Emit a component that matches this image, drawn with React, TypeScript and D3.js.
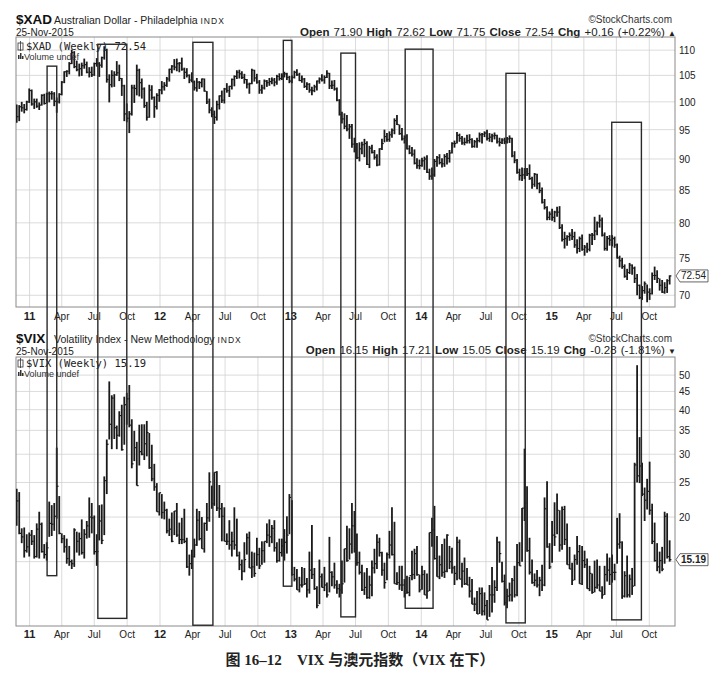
import * as d3 from 'd3';

// weekly bars, weeks ending on Fridays starting 26-Nov-2010: [high, low, close]
const firstWeek = new Date(2010, 10, 26);

const xadWeekly: [number, number, number][] = [
  // 2010
  [99.5, 96.2, 97.3], [99.4, 96.5, 99.1], [100.0, 98.2, 98.9], [99.6, 97.9, 98.6], [100.2, 98.4, 100.0], [102.5, 99.8, 102.1],
  // 2011
  [102.3, 99.3, 99.6], [100.6, 98.7, 100.0], [100.6, 98.9, 99.2], [99.9, 98.5, 99.4],
  [101.4, 99.3, 101.2], [101.5, 99.5, 99.7], [101.7, 99.7, 101.5], [101.9, 99.9, 101.5],
  [102.0, 100.4, 101.5], [101.8, 99.2, 100.1], [100.8, 98.0, 100.0], [101.6, 99.7, 101.4],
  [103.9, 101.2, 103.7], [105.8, 103.5, 105.7], [106.0, 104.7, 105.8], [107.6, 105.2, 107.3], [110.1, 107.2, 109.5],
  [109.8, 106.4, 106.7], [107.9, 105.8, 106.1], [107.3, 104.8, 106.3], [107.5, 104.9, 106.9],
  [108.3, 106.3, 107.1], [107.7, 105.4, 105.6], [106.6, 104.6, 105.6], [106.7, 104.7, 105.1],
  [107.5, 104.9, 107.3], [108.4, 106.7, 107.3], [107.6, 104.7, 107.0], [108.7, 106.5, 108.5], [110.8, 108.1, 110.0],
  [110.3, 103.6, 104.2], [105.2, 99.9, 103.2], [106.0, 102.7, 105.0], [105.8, 102.8, 105.1],
  [107.8, 104.9, 105.5], [107.1, 103.9, 104.4], [104.5, 101.1, 103.0], [103.2, 96.5, 97.8], [99.7, 96.3, 97.0],
  [98.3, 94.4, 97.8], [103.2, 97.5, 102.6], [103.2, 99.8, 102.5], [107.1, 101.2, 106.0],
  [106.3, 101.0, 103.6], [104.4, 100.6, 102.4], [102.7, 98.9, 99.3], [100.0, 96.6, 97.2],
  [103.2, 97.1, 102.2], [103.1, 100.4, 100.8], [101.0, 97.1, 99.1], [101.6, 98.6, 101.2], [102.4, 100.0, 102.2],
  // 2012
  [103.9, 101.4, 102.8], [103.7, 102.1, 103.1], [104.7, 102.8, 104.3], [106.3, 103.8, 106.2],
  [107.0, 105.4, 106.8], [108.2, 106.0, 106.6], [108.3, 105.8, 107.3], [107.6, 105.6, 107.4],
  [108.5, 105.9, 106.2], [106.5, 104.3, 105.6], [106.4, 104.6, 105.0], [105.2, 103.5, 104.1], [105.6, 103.7, 103.7],
  [104.0, 102.1, 102.6], [104.5, 101.9, 103.7], [103.9, 102.4, 103.6], [104.4, 102.7, 104.3],
  [104.4, 101.9, 102.0], [102.0, 99.6, 100.0], [100.6, 97.9, 98.5], [99.0, 97.2, 97.7],
  [98.4, 96.0, 97.2], [100.2, 96.6, 99.5], [101.2, 98.6, 101.1], [102.1, 99.8, 100.3], [102.6, 99.7, 102.4],
  [103.5, 101.7, 102.1], [103.0, 100.9, 102.9], [104.4, 102.3, 104.2], [105.0, 102.9, 104.8],
  [106.0, 104.3, 105.6], [106.1, 104.4, 105.3], [105.8, 104.3, 104.6], [105.3, 103.4, 104.2], [104.3, 102.5, 103.3],
  [103.6, 101.5, 103.4], [106.3, 103.3, 106.0], [106.1, 103.8, 104.5], [105.3, 103.4, 103.7],
  [104.1, 101.5, 102.2], [103.2, 101.5, 102.6], [104.2, 102.3, 103.9], [104.1, 102.8, 103.6],
  [104.5, 103.0, 103.8], [104.6, 103.3, 104.1], [104.5, 102.9, 103.7], [105.1, 103.2, 104.8], [105.4, 104.0, 104.4],
  [105.4, 104.1, 104.9], [105.7, 104.6, 105.3], [105.5, 104.1, 104.6], [104.9, 103.5, 103.9],
  // 2013
  [105.0, 103.5, 104.6], [105.9, 104.4, 105.6], [106.2, 104.9, 105.1], [105.5, 103.9, 104.0],
  [105.0, 103.6, 104.3], [104.5, 102.6, 102.9], [103.7, 102.2, 103.3], [103.5, 101.7, 102.2],
  [102.8, 101.2, 102.1], [103.2, 101.8, 102.8], [104.0, 102.1, 103.9], [104.6, 103.4, 104.3], [105.2, 103.8, 104.1],
  [105.0, 103.4, 104.6], [106.0, 104.5, 105.4], [105.5, 102.4, 103.0], [104.0, 102.4, 103.1],
  [104.1, 102.1, 102.4], [102.7, 100.1, 100.3], [100.5, 97.5, 97.7], [98.2, 96.1, 96.9], [97.9, 95.1, 95.6],
  [97.6, 94.7, 95.1], [96.0, 93.4, 95.5], [96.0, 91.9, 92.5], [93.6, 91.1, 91.4],
  [92.7, 90.0, 90.2], [92.8, 89.6, 91.7], [92.9, 90.8, 92.4], [93.4, 90.3, 92.6],
  [93.0, 89.0, 89.1], [92.2, 88.5, 91.8], [92.4, 90.9, 91.1], [91.5, 89.9, 90.3], [90.8, 88.8, 89.0],
  [91.8, 88.9, 91.7], [93.4, 91.5, 92.6], [95.0, 92.8, 93.8], [94.4, 92.9, 93.3],
  [94.7, 92.9, 94.1], [95.2, 93.6, 94.9], [97.0, 94.2, 96.6], [97.6, 95.8, 95.9],
  [95.9, 94.1, 94.3], [95.3, 93.1, 93.4], [94.0, 92.6, 93.7], [94.2, 91.6, 91.7], [92.3, 90.8, 91.0],
  [92.0, 90.4, 90.8], [91.6, 89.1, 89.3], [90.1, 88.4, 88.9], [89.9, 88.3, 88.9],
  // 2014
  [90.2, 88.7, 89.7], [90.4, 88.2, 90.0], [90.6, 87.7, 87.8], [88.4, 86.6, 87.2], [88.6, 86.6, 87.4],
  [90.0, 87.1, 89.6], [90.5, 88.7, 90.2], [90.8, 89.1, 89.4], [90.1, 88.6, 89.2],
  [90.8, 88.7, 90.4], [91.0, 89.1, 90.1], [91.5, 89.4, 91.0], [92.8, 90.9, 92.6],
  [93.1, 91.9, 92.6], [94.6, 92.6, 94.0], [94.3, 92.9, 93.5], [93.9, 92.4, 92.7],
  [93.6, 92.3, 92.8], [94.1, 92.6, 93.1], [94.2, 92.6, 93.3], [93.5, 91.9, 92.1], [93.2, 91.9, 92.9],
  [93.6, 91.9, 93.1], [94.5, 92.8, 94.1], [94.4, 92.6, 94.2], [94.7, 93.7, 94.4],
  [95.0, 93.1, 93.5], [94.4, 92.9, 93.7], [94.3, 92.8, 93.9], [94.5, 93.3, 94.0],
  [94.1, 92.6, 92.9], [93.6, 92.1, 92.8], [93.5, 92.5, 93.2], [93.6, 92.5, 92.9], [93.7, 92.6, 93.4],
  [94.0, 92.7, 93.5], [93.6, 90.3, 90.5], [91.3, 89.3, 89.8], [90.0, 87.6, 87.8],
  [88.4, 86.5, 87.3], [88.6, 86.4, 87.4], [88.5, 86.7, 87.9], [88.5, 87.2, 87.6], [89.1, 86.6, 86.8],
  [87.1, 85.2, 85.9], [87.7, 85.5, 87.5], [87.6, 85.1, 86.0], [86.2, 84.5, 84.9],
  [85.4, 82.9, 83.1], [83.6, 82.0, 82.3], [82.5, 80.4, 80.8], [81.7, 80.4, 81.3],
  // 2015
  [82.1, 80.3, 80.8], [81.8, 80.1, 81.6], [82.4, 80.9, 81.6], [82.5, 79.1, 79.3], [79.8, 77.3, 77.6],
  [78.7, 76.3, 77.7], [78.2, 76.7, 78.0], [78.6, 77.4, 78.2], [79.1, 77.5, 78.0],
  [78.7, 76.4, 76.8], [77.6, 75.6, 76.3], [78.0, 75.8, 77.7], [78.3, 76.0, 76.2],
  [76.8, 75.3, 76.5], [77.1, 75.7, 76.2], [78.4, 75.9, 78.2], [78.5, 76.8, 78.2],
  [80.9, 77.5, 78.8], [80.2, 78.2, 80.0], [81.2, 79.3, 80.4], [80.8, 78.0, 78.2], [78.6, 76.0, 76.3],
  [78.1, 76.0, 77.7], [78.2, 76.7, 77.5], [78.2, 76.6, 77.7], [78.0, 76.4, 76.8],
  [77.0, 74.9, 75.0], [75.3, 73.7, 74.6], [75.0, 73.5, 73.8], [74.1, 72.3, 72.5], [73.5, 72.0, 73.0],
  [74.3, 72.8, 74.0], [74.1, 72.7, 73.6], [73.8, 71.6, 72.2], [72.8, 70.0, 71.3],
  [71.4, 69.5, 69.7], [71.2, 69.4, 70.6], [71.8, 70.2, 71.5], [71.4, 69.1, 70.4],
  [70.9, 69.4, 70.2], [73.0, 70.1, 72.6], [73.8, 72.0, 72.6], [73.3, 71.6, 72.2], [72.2, 70.6, 71.3],
  [72.0, 70.3, 70.4], [71.7, 70.2, 71.0], [72.1, 70.3, 71.9], [72.62, 71.4, 72.54],
];

const vixWeekly: [number, number, number][] = [
  // 2010
  [24.0, 18.9, 22.2], [23.5, 17.9, 18.0], [18.6, 16.9, 17.6], [18.7, 15.4, 16.1], [17.9, 15.9, 16.5], [18.1, 15.5, 17.8],
  // 2011
  [18.4, 16.7, 17.1], [17.8, 15.3, 15.5], [19.2, 15.4, 18.5], [20.7, 15.3, 19.1],
  [19.3, 15.9, 16.0], [16.8, 15.3, 15.7], [17.0, 15.1, 16.4], [22.1, 17.6, 19.2],
  [21.6, 17.7, 19.1], [21.9, 18.3, 20.1], [31.3, 19.8, 24.4], [22.9, 17.9, 18.0],
  [18.0, 16.9, 17.4], [17.8, 15.9, 16.5], [17.4, 14.8, 15.3], [16.6, 14.6, 15.0], [15.2, 14.3, 14.8],
  [18.6, 14.5, 18.4], [18.2, 15.9, 17.1], [18.1, 15.6, 17.4], [19.7, 15.7, 15.9],
  [18.5, 15.3, 17.9], [19.5, 17.4, 18.9], [22.7, 17.5, 20.0], [21.9, 18.0, 19.9],
  [20.2, 15.7, 16.0], [17.9, 14.6, 16.0], [21.6, 17.2, 19.5], [21.7, 16.8, 17.2], [26.0, 17.8, 25.3],
  [33.0, 23.2, 32.0], [48.0, 33.0, 36.4], [43.9, 31.0, 43.1], [44.2, 33.1, 35.6],
  [36.1, 31.0, 33.9], [39.6, 33.6, 38.5], [41.3, 30.7, 30.9], [43.5, 31.9, 41.3], [44.6, 36.3, 42.9],
  [46.9, 35.7, 36.2], [37.6, 27.4, 28.2], [34.9, 28.7, 31.3], [32.5, 24.5, 24.5],
  [36.3, 27.9, 30.5], [36.4, 29.8, 30.0], [36.4, 28.9, 32.1], [37.2, 29.6, 34.5],
  [34.4, 27.3, 27.5], [31.9, 25.2, 25.6], [28.2, 23.7, 24.3], [24.9, 20.7, 20.7], [23.4, 20.2, 23.4],
  // 2012
  [23.2, 19.8, 20.6], [22.1, 19.7, 20.9], [21.1, 18.0, 18.3], [19.8, 17.7, 18.5],
  [20.6, 17.0, 17.1], [20.8, 17.8, 20.8], [21.9, 17.6, 17.8], [19.3, 16.8, 17.3],
  [19.9, 16.8, 17.3], [21.1, 16.9, 17.1], [17.5, 14.4, 14.5], [15.7, 13.7, 14.8], [16.2, 14.3, 15.5],
  [17.4, 15.4, 16.7], [21.1, 16.6, 19.6], [20.8, 17.2, 17.4], [20.0, 16.3, 16.3],
  [19.3, 15.9, 19.2], [21.9, 18.3, 19.9], [26.7, 19.4, 25.1], [24.5, 21.1, 21.8],
  [26.7, 21.5, 26.7], [26.9, 20.8, 21.2], [24.6, 19.9, 21.1], [21.9, 17.1, 20.1], [21.3, 17.1, 17.1],
  [18.0, 16.7, 17.1], [19.6, 16.2, 16.7], [18.2, 15.5, 17.1], [21.3, 16.2, 16.7],
  [19.8, 15.5, 15.6], [16.0, 14.2, 14.7], [15.2, 13.3, 14.1], [17.0, 14.0, 15.2], [18.0, 15.7, 17.5],
  [18.2, 14.4, 14.4], [16.0, 13.5, 14.5], [15.9, 13.6, 13.9], [17.5, 14.6, 15.7],
  [16.4, 14.3, 14.6], [17.1, 14.7, 16.1], [17.1, 14.9, 17.1], [19.2, 16.9, 17.8],
  [19.7, 16.5, 17.6], [19.0, 16.9, 18.6], [19.6, 16.0, 16.4], [17.0, 14.9, 15.1], [17.4, 15.0, 15.9],
  [17.4, 15.5, 16.6], [18.5, 15.1, 17.0], [20.1, 15.8, 17.8], [23.2, 17.9, 22.7],
  // 2013
  [22.3, 13.7, 13.8], [14.5, 13.2, 13.4], [14.3, 12.5, 12.5], [13.6, 12.3, 12.9],
  [14.5, 12.7, 12.9], [14.4, 12.9, 13.0], [13.5, 11.9, 12.5], [16.0, 12.2, 14.2],
  [19.0, 13.4, 13.8], [14.4, 12.5, 12.6], [12.8, 11.1, 11.3], [15.2, 11.4, 13.6], [13.9, 12.7, 12.7],
  [14.5, 12.4, 12.9], [13.1, 11.9, 12.1], [17.6, 12.3, 14.0], [14.1, 12.8, 13.6],
  [14.9, 12.6, 12.9], [13.3, 12.2, 12.6], [13.0, 11.9, 12.5], [15.1, 12.2, 13.0], [16.3, 13.1, 16.3],
  [18.9, 15.0, 15.1], [18.6, 15.2, 16.8], [21.9, 15.8, 18.9], [20.8, 15.9, 16.9],
  [18.0, 14.6, 14.9], [16.0, 13.8, 14.0], [14.7, 12.4, 12.5], [14.0, 12.1, 12.7],
  [14.4, 11.8, 11.9], [13.7, 11.8, 12.9], [15.1, 12.0, 14.4], [16.3, 13.9, 14.8], [17.9, 14.3, 17.0],
  [17.5, 15.5, 15.9], [16.0, 13.7, 14.2], [14.9, 12.6, 13.1], [15.9, 13.3, 15.7],
  [18.3, 15.3, 16.7], [21.3, 15.6, 15.7], [19.4, 13.0, 13.0], [14.0, 12.9, 13.1],
  [14.6, 12.5, 12.9], [14.6, 12.4, 12.9], [13.4, 11.9, 12.2], [13.7, 12.2, 12.3], [13.6, 12.0, 13.7],
  [16.1, 13.3, 13.8], [16.3, 13.4, 15.8], [16.6, 13.7, 13.8], [13.8, 12.3, 12.5],
  // 2014
  [14.6, 12.5, 13.8], [14.2, 12.1, 12.1], [13.9, 11.8, 12.4], [18.1, 12.4, 18.1], [19.9, 16.5, 18.4],
  [21.5, 15.2, 15.3], [17.7, 13.6, 13.6], [15.6, 13.4, 14.7], [16.8, 13.6, 14.0],
  [17.4, 13.5, 14.1], [17.9, 14.0, 17.8], [16.6, 14.3, 15.0], [16.4, 13.9, 14.4],
  [14.6, 12.9, 13.9], [17.6, 13.3, 17.0], [17.3, 13.4, 13.4], [14.9, 12.7, 14.1],
  [15.4, 12.9, 13.0], [14.4, 12.9, 12.9], [13.6, 11.9, 12.4], [13.4, 11.4, 11.4], [11.9, 10.9, 11.4],
  [12.4, 10.7, 10.7], [12.7, 10.7, 12.2], [12.7, 10.6, 10.9], [12.3, 10.6, 11.3],
  [11.7, 10.3, 10.3], [12.9, 10.5, 12.1], [14.5, 10.8, 12.1], [13.3, 11.5, 12.7],
  [17.6, 12.4, 17.0], [17.1, 14.9, 15.8], [15.0, 13.1, 13.2], [13.8, 11.3, 11.5], [12.6, 11.1, 12.0],
  [13.1, 11.6, 12.1], [13.5, 11.6, 13.3], [14.6, 11.9, 12.1], [16.8, 12.0, 14.9],
  [17.0, 14.6, 14.6], [21.2, 15.0, 21.2], [31.1, 19.5, 21.9], [24.4, 16.0, 16.1], [17.5, 13.8, 14.0],
  [15.2, 13.0, 13.1], [13.9, 12.8, 13.3], [14.2, 12.7, 12.9], [13.6, 12.0, 13.3],
  [14.7, 12.4, 12.9], [22.7, 12.8, 21.1], [25.2, 16.4, 16.5], [16.9, 14.3, 14.5],
  // 2015
  [19.5, 14.9, 17.8], [22.0, 16.6, 17.6], [23.3, 17.9, 20.9], [20.9, 16.0, 16.7], [21.4, 16.2, 21.0],
  [21.5, 16.7, 17.3], [19.2, 14.7, 14.7], [16.5, 14.3, 14.3], [14.9, 12.9, 13.3],
  [15.7, 13.3, 15.2], [17.7, 14.7, 16.0], [16.7, 13.0, 13.0], [16.6, 12.9, 15.1],
  [16.1, 14.4, 14.7], [15.3, 12.6, 12.6], [14.6, 12.4, 13.9], [13.9, 12.2, 12.3],
  [15.1, 12.3, 12.7], [15.2, 12.6, 12.9], [14.6, 12.4, 12.4], [12.8, 11.8, 12.1], [14.6, 12.1, 13.8],
  [15.8, 13.2, 14.2], [15.4, 12.9, 13.8], [15.7, 13.1, 14.0], [14.8, 13.3, 14.0],
  [19.9, 14.8, 16.8], [20.5, 16.3, 17.0], [17.1, 11.8, 12.0], [14.1, 11.9, 13.7], [15.6, 11.9, 12.1],
  [13.8, 11.9, 13.4], [14.4, 12.1, 12.8], [28.4, 12.8, 28.0], [53.3, 25.0, 26.1],
  [33.5, 24.9, 27.8], [28.4, 22.9, 23.2], [24.2, 19.5, 22.3], [25.6, 21.0, 23.6],
  [28.6, 20.3, 20.9], [21.8, 16.8, 17.1], [19.3, 15.0, 15.1], [16.9, 14.1, 14.5], [16.0, 13.9, 15.1],
  [16.5, 14.1, 14.3], [20.7, 14.8, 20.1], [20.5, 15.3, 15.5], [17.21, 15.0, 15.19],
];

const xadTicks = [70, 75, 80, 85, 90, 95, 100, 105, 110];
const vixTicks = [20, 25, 30, 35, 40, 45, 50];
const vixGrid = [15, 20, 25, 30, 35, 40, 45, 50];
const quarterLabels = [
  '11', 'Apr', 'Jul', 'Oct', '12', 'Apr', 'Jul', 'Oct', '13', 'Apr', 'Jul', 'Oct',
  '14', 'Apr', 'Jul', 'Oct', '15', 'Apr', 'Jul', 'Oct',
];

const xadQuote = [['Open', '71.90'], ['High', '72.62'], ['Low', '71.75'], ['Close', '72.54'], ['Chg', '+0.16 (+0.22%)']];
const vixQuote = [['Open', '16.15'], ['High', '17.21'], ['Low', '15.05'], ['Close', '15.19'], ['Chg', '-0.28 (-1.81%)']];

// hand-drawn boxes: date span, top as $XAD level, bottom as $VIX level
const boxes = [
  { from: new Date(2011, 1, 19), to: new Date(2011, 2, 18), top: 106.8, bottom: 13.7 },
  { from: new Date(2011, 6, 11), to: new Date(2011, 8, 30), top: 111.2, bottom: 10.4 },
  { from: new Date(2012, 3, 2), to: new Date(2012, 4, 28), top: 111.6, bottom: 9.95 },
  { from: new Date(2012, 11, 11), to: new Date(2013, 0, 4), top: 112.0, bottom: 12.8 },
  { from: new Date(2013, 4, 21), to: new Date(2013, 6, 1), top: 109.4, bottom: 10.5 },
  { from: new Date(2013, 10, 17), to: new Date(2014, 1, 3), top: 110.2, bottom: 11.1 },
  { from: new Date(2014, 7, 26), to: new Date(2014, 9, 19), top: 105.4, bottom: 10.1 },
  { from: new Date(2015, 5, 18), to: new Date(2015, 8, 9), top: 96.3, bottom: 10.3 },
];

const W = 725;
const H = 677;
const left = 16;
const right = 675;
const topBox = { y0: 37, y1: 307 };
const botBox = { y0: 357, y1: 626 };
const sans = '"Liberation Sans", Arial, sans-serif';
const ink = '#1a1a1a';

export default function App() {
  const x = d3
    .scaleTime()
    .domain([new Date(2010, 10, 24), new Date(2015, 11, 12)])
    .range([left, right]);
  const yX = d3.scaleLog().domain([68.5, 112.7]).range([topBox.y1, topBox.y0]);
  const yV = d3.scaleLog().domain([9.9, 56.2]).range([botBox.y1, botBox.y0]);
  const quarters = d3.timeMonth.every(3)!.range(new Date(2011, 0, 1), new Date(2015, 11, 1));
  const weekX = (i: number) => x(d3.timeDay.offset(firstWeek, i * 7));

  const bars = (data: [number, number, number][], y: d3.ScaleLogarithmic<number, number>) =>
    data.map((d, i) => {
      const cx = weekX(i);
      return (
        <g key={i}>
          <line x1={cx} x2={cx} y1={y(d[0])} y2={y(d[1])} stroke={ink} strokeWidth={1.8} />
          <line x1={cx} x2={cx + 1.8} y1={y(d[2])} y2={y(d[2])} stroke={ink} strokeWidth={1.2} />
        </g>
      );
    });

  const panelFrame = (box: { y0: number; y1: number }, grid: number[], y: d3.ScaleLogarithmic<number, number>) => (
    <g>
      {grid.map(v => (
        <line key={v} x1={left} x2={right} y1={y(v)} y2={y(v)} stroke="#d2d2d2" strokeWidth={0.8} />
      ))}
      {quarters.map((q, i) => (
        <line key={i} x1={x(q)} x2={x(q)} y1={box.y0} y2={box.y1} stroke="#d2d2d2" strokeWidth={0.8} />
      ))}
      <rect x={left} y={box.y0} width={right - left} height={box.y1 - box.y0} fill="none" stroke="#8a8a8a" strokeWidth={1} />
    </g>
  );

  const xLabels = (yBase: number) =>
    quarters.map((q, i) => {
      const lab = quarterLabels[i];
      const isYear = /^\d+$/.test(lab);
      return (
        <text key={i} x={x(q)} y={yBase} textAnchor="middle" fontSize={isYear ? 11 : 10}
          fontWeight={isYear ? 'bold' : 'normal'} fill="#222">
          {lab}
        </text>
      );
    });

  const quoteLine = (q: string[][], yBase: number, arrow: string) => (
    <text x={676} y={yBase} textAnchor="end" fontSize={11.5} fill="#222" wordSpacing={1}>
      {q.map(([k, v], i) => (
        <tspan key={i}>
          <tspan fontWeight="bold">{(i ? '  ' : '') + k}</tspan>
          {' ' + v}
        </tspan>
      ))}
      <tspan fontSize={8}>{' ' + arrow}</tspan>
    </text>
  );

  const header = (sym: string, name: string, yBase: number, quoteY: number, q: string[][], arrow: string) => (
    <g fontFamily={sans}>
      <text x={left} y={yBase} fontSize={13.5} fontWeight="bold" fill="#111">{sym}</text>
      <text x={left + 38} y={yBase} fontSize={10.5} fill="#222">
        {name + ' '}
        <tspan fontSize={8.5} letterSpacing={1}>INDX</tspan>
      </text>
      <text x={left} y={yBase + 12} fontSize={10} fill="#222">25-Nov-2015</text>
      <text x={672} y={yBase - 1} textAnchor="end" fontSize={10} fill="#333">©StockCharts.com</text>
      {quoteLine(q, quoteY, arrow)}
    </g>
  );

  const legend = (label: string, yBase: number) => (
    <g>
      <rect x={18} y={yBase - 7} width={5} height={7} fill="none" stroke="#333" strokeWidth={0.8} />
      <line x1={20.5} x2={20.5} y1={yBase - 9} y2={yBase + 1} stroke="#333" strokeWidth={0.8} />
      <text x={26} y={yBase} fontFamily='"DejaVu Sans Mono", monospace' fontSize={10.5} fill="#222">{label}</text>
      <rect x={18} y={yBase + 5} width={1.5} height={4} fill="#333" />
      <rect x={20} y={yBase + 3} width={1.5} height={6} fill="#333" />
      <rect x={22} y={yBase + 6} width={1.5} height={3} fill="#333" />
      <text x={24} y={yBase + 10} fontFamily={sans} fontSize={9} fill="#333">Volume undef</text>
    </g>
  );

  const lastTag = (y: number, label: string, bold: boolean) => (
    <g>
      <path d={`M${right + 1},${y} L${right + 5},${y - 6} L${right + 33},${y - 6} L${right + 33},${y + 6} L${right + 5},${y + 6} Z`}
        fill="#fff" stroke="#555" strokeWidth={0.9} />
      <text x={right + 6} y={y + 3.5} fontFamily={sans} fontSize={10} fontWeight={bold ? 'bold' : 'normal'} fill="#222">{label}</text>
    </g>
  );

  return (
    <svg width={W} height={H} style={{ position: 'absolute', left: 0, top: 0, background: '#fff' }} fontFamily={sans}>
      <defs>
        <clipPath id="clipTop">
          <rect x={left} y={topBox.y0} width={right - left} height={topBox.y1 - topBox.y0} />
        </clipPath>
        <clipPath id="clipBot">
          <rect x={left} y={botBox.y0} width={right - left} height={botBox.y1 - botBox.y0} />
        </clipPath>
      </defs>

      {header('$XAD', 'Australian Dollar - Philadelphia', 24, 36, xadQuote, '▲')}
      {panelFrame(topBox, xadTicks, yX)}
      {xadTicks.map(v => (
        <text key={v} x={right + 4} y={yX(v) + 4} fontSize={10} fill="#222">{v}</text>
      ))}
      <g clipPath="url(#clipTop)">{bars(xadWeekly, yX)}</g>
      {legend('$XAD (Weekly) 72.54', 50)}
      {lastTag(yX(72.54), '72.54', false)}
      {xLabels(320)}

      {header('$VIX', 'Volatility Index - New Methodology', 343, 354, vixQuote, '▼')}
      {panelFrame(botBox, vixGrid, yV)}
      {vixTicks.map(v => (
        <text key={v} x={right + 4} y={yV(v) + 4} fontSize={10} fill="#222">{v}</text>
      ))}
      <g clipPath="url(#clipBot)">{bars(vixWeekly, yV)}</g>
      {legend('$VIX (Weekly) 15.19', 367)}
      {lastTag(yV(15.19), '15.19', true)}
      {xLabels(638)}

      {boxes.map((b, i) => (
        <rect key={i} x={x(b.from)} y={yX(b.top)} width={x(b.to) - x(b.from)} height={yV(b.bottom) - yX(b.top)}
          fill="none" stroke="#2a2a2a" strokeWidth={1.4} />
      ))}

      <text x={360} y={665} textAnchor="middle" fontFamily='"Liberation Serif", "Noto Sans CJK SC", serif'
        fontSize={15} fontWeight="bold" fill="#222">
        图 16–12{'\u2003'}VIX 与澳元指数（VIX 在下）
      </text>
    </svg>
  );
}
